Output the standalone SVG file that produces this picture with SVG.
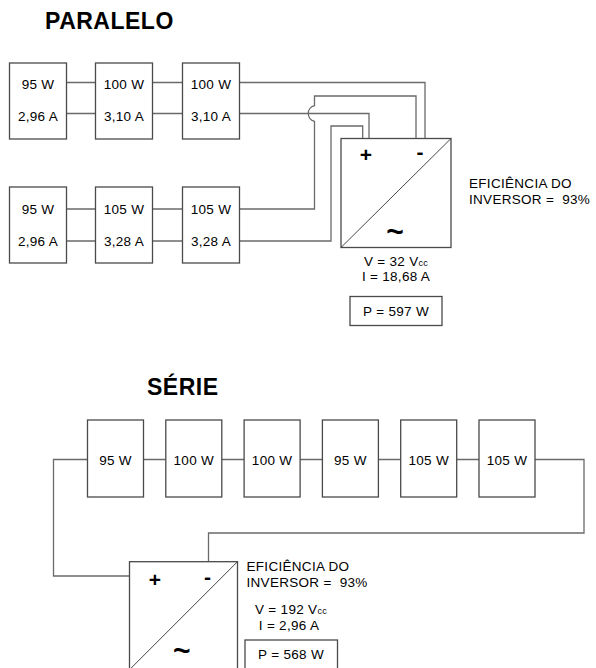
<svg xmlns="http://www.w3.org/2000/svg" width="596" height="668" viewBox="0 0 596 668">
<style>
.bg{fill:#fff}
.box{fill:#fff;stroke:#4a4a4a;stroke-width:1.3}
.w{fill:none;stroke:#6a6a6a;stroke-width:1.3}
.diag{stroke:#333;stroke-width:0.9}
.t{font-family:"Liberation Sans",Arial,sans-serif;font-size:13.5px;letter-spacing:0.3px;fill:#000;text-anchor:middle}
.l{font-family:"Liberation Sans",Arial,sans-serif;font-size:13.5px;letter-spacing:0.3px;fill:#000}
.h{font-family:"Liberation Sans",Arial,sans-serif;font-size:23px;font-weight:bold;letter-spacing:0.5px;fill:#000}
.sym{font-family:"Liberation Sans",Arial,sans-serif;font-weight:bold;fill:#000;text-anchor:middle}
.sub{font-size:9px}
</style>
<rect class="bg" x="0" y="0" width="596" height="668"/>
<text class="h" x="45" y="29">PARALELO</text>
<text class="h" x="147" y="395">SÉRIE</text>

<g id="connectors">
  <path class="w" d="M66.5 82.5H95.5M152.5 82.5H182.5M66.5 113.5H95.5M152.5 113.5H182.5"/>
  <path class="w" d="M66.5 209H95.5M152.5 209H182.5M66.5 241H95.5M152.5 241H182.5"/>
  <path class="w" d="M239.5 82.5H425V138.5"/>
  <path class="w" d="M239.5 113.5H369V138.5"/>
  <path class="w" d="M239.5 209H314.5V121.3A8 8 0 0 1 314.5 105.7V96H416V138.5"/>
  <path class="w" d="M239.5 241H331V126H362.7V138.5"/>
  <path class="w" d="M143.5 459.5H165.8M221.8 459.5H244.1M300.1 459.5H322.4M378.4 459.5H400.7M456.7 459.5H479"/>
  <path class="w" d="M87.5 459.5H53.5V576H129.5"/>
  <path class="w" d="M535 459.5H584V533H208.5V561.7"/>
</g>

<g id="p-m1"><rect class="box" x="9.5" y="63" width="57" height="76"/><text class="t" x="38" y="89">95 W</text><text class="t" x="38" y="121">2,96 A</text></g>
<g id="p-m2"><rect class="box" x="95.5" y="63" width="57" height="76"/><text class="t" x="124" y="89">100 W</text><text class="t" x="124" y="121">3,10 A</text></g>
<g id="p-m3"><rect class="box" x="182.5" y="63" width="57" height="76"/><text class="t" x="211" y="89">100 W</text><text class="t" x="211" y="121">3,10 A</text></g>
<g id="p-m4"><rect class="box" x="9.5" y="187" width="57" height="76"/><text class="t" x="38" y="213.5">95 W</text><text class="t" x="38" y="245.5">2,96 A</text></g>
<g id="p-m5"><rect class="box" x="95.5" y="187" width="57" height="76"/><text class="t" x="124" y="213.5">105 W</text><text class="t" x="124" y="245.5">3,28 A</text></g>
<g id="p-m6"><rect class="box" x="182.5" y="187" width="57" height="76"/><text class="t" x="211" y="213.5">105 W</text><text class="t" x="211" y="245.5">3,28 A</text></g>

<g id="p-inverter">
  <rect class="box" x="341" y="138.5" width="110" height="109"/>
  <line class="diag" x1="341" y1="247.5" x2="451" y2="138.5"/>
  <text class="sym" x="366" y="162" font-size="21">+</text>
  <text class="sym" x="420" y="159" font-size="21">-</text>
  <text class="sym" x="395" y="242" font-size="30">~</text>
</g>
<g id="p-values">
  <text class="t" x="396" y="266">V = 32 V<tspan class="sub">cc</tspan></text>
  <text class="t" x="396" y="281">I = 18,68 A</text>
</g>
<g id="p-power"><rect class="box" x="350" y="296.5" width="92" height="29"/><text class="t" x="396" y="316">P = 597 W</text></g>
<g id="p-eff"><text class="l" x="469" y="187.5">EFICIÊNCIA DO</text><text class="l" x="469" y="204">INVERSOR = &#160;93%</text></g>

<g id="s-m1"><rect class="box" x="87.5" y="420" width="56" height="77"/><text class="t" x="115.5" y="464.5">95 W</text></g>
<g id="s-m2"><rect class="box" x="165.8" y="420" width="56" height="77"/><text class="t" x="193.8" y="464.5">100 W</text></g>
<g id="s-m3"><rect class="box" x="244.1" y="420" width="56" height="77"/><text class="t" x="272.1" y="464.5">100 W</text></g>
<g id="s-m4"><rect class="box" x="322.4" y="420" width="56" height="77"/><text class="t" x="350.4" y="464.5">95 W</text></g>
<g id="s-m5"><rect class="box" x="400.7" y="420" width="56" height="77"/><text class="t" x="428.7" y="464.5">105 W</text></g>
<g id="s-m6"><rect class="box" x="479" y="420" width="56" height="77"/><text class="t" x="507" y="464.5">105 W</text></g>

<g id="s-inverter">
  <rect class="box" x="129.5" y="561.7" width="108" height="108"/>
  <line class="diag" x1="129.5" y1="669.7" x2="237.5" y2="561.7"/>
  <text class="sym" x="155" y="587" font-size="21">+</text>
  <text class="sym" x="207.5" y="584" font-size="21">-</text>
  <text class="sym" x="181.7" y="661" font-size="30">~</text>
</g>
<g id="s-eff"><text class="l" x="246.5" y="571">EFICIÊNCIA DO</text><text class="l" x="246.5" y="587">INVERSOR = &#160;93%</text></g>
<g id="s-values">
  <text class="t" x="291" y="614">V = 192 V<tspan class="sub">cc</tspan></text>
  <text class="t" x="289" y="630">I = 2,96 A</text>
</g>
<g id="s-power"><rect class="box" x="245" y="640" width="92.5" height="30"/><text class="t" x="291" y="658.5">P = 568 W</text></g>
</svg>
